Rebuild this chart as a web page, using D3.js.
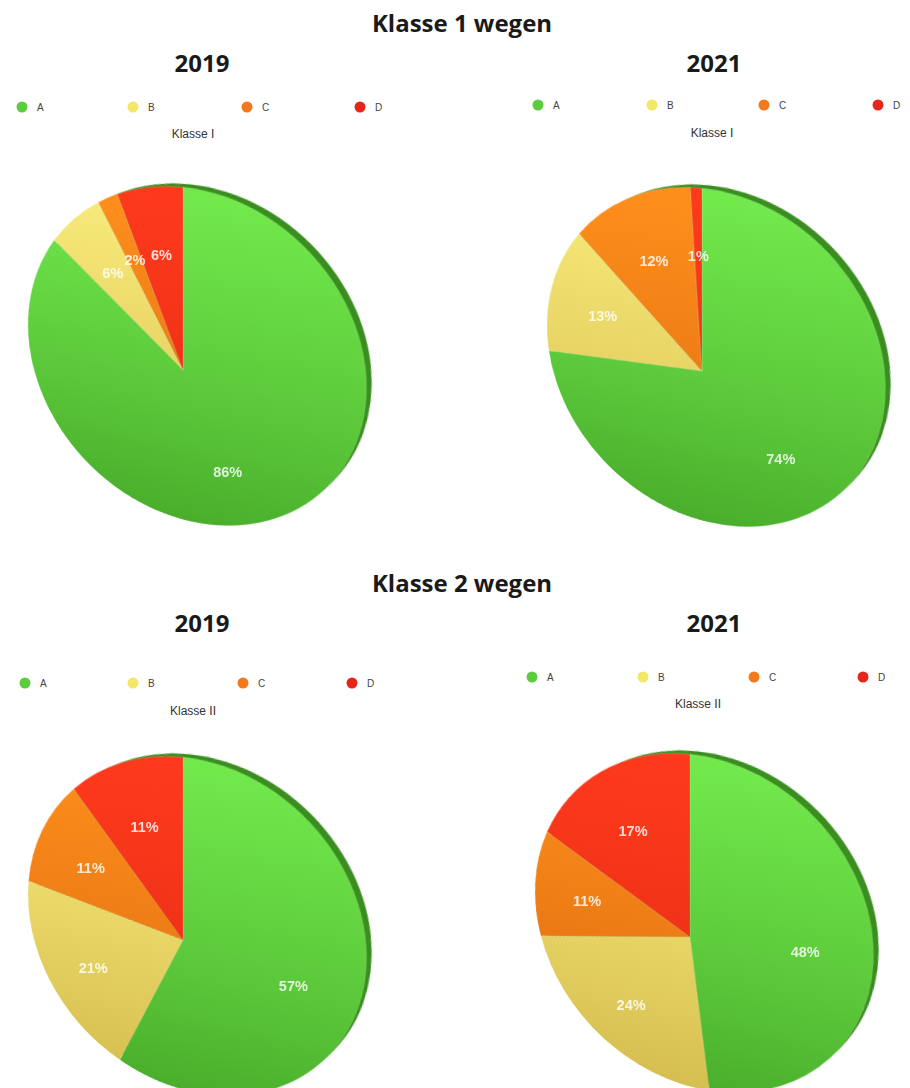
<!DOCTYPE html>
<html><head><meta charset="utf-8">
<script src="https://cdn.jsdelivr.net/npm/d3@7/dist/d3.min.js"></script>
<style>
body{margin:0;background:#fff;width:910px;height:1088px;overflow:hidden;position:relative;}
.pie{position:absolute;transform-origin:50% 50%;}
#base,#overlay{position:absolute;left:0;top:0;}
</style></head>
<body>
<svg id="base" width="910" height="1088"></svg>
<script>
// ---- data ----
const categories = ["A", "B", "C", "D"];
const groupTitles = ["Klasse 1 wegen", "Klasse 2 wegen"];
const years = ["2019", "2021"];
const chartSubtitles = ["Klasse I", "Klasse II"];
const valuesK1_2019 = [86, 6, 2, 6];
const valuesK1_2021 = [74, 13, 12, 1];
const valuesK2_2019 = [57, 21, 11, 11];
const valuesK2_2021 = [48, 24, 11, 17];

// ---- styling / layout ----
const legendColors = ["#5ccb3c", "#f2e766", "#f27a1c", "#e6261a"];
const gradTop = ["#72ea4c", "#f9ec7c", "#ff8f1c", "#ff3a1c"];
const gradBot = ["#4aae2c", "#d6be50", "#dc6a10", "#e02a14"];
const color = d3.scaleOrdinal().domain(categories).range(legendColors);
const tilt = "perspective(800px) rotateX(-26deg) rotateY(-24deg)";

const base = d3.select("#base");
const titleFont = "'Open Sans', sans-serif";
const smallFont = "'Liberation Sans', Arial, sans-serif";

const panels = [
  {values: valuesK1_2019, year: years[0], sub: chartSubtitles[0], yearX: 202, yearY: 72,
   legendY: 107, legendX: [22, 133, 247, 360], subX: 193, subY: 138, cx: 183, cy: 370},
  {values: valuesK1_2021, year: years[1], sub: chartSubtitles[0], yearX: 714, yearY: 72,
   legendY: 105, legendX: [538, 652, 764, 878], subX: 712, subY: 137, cx: 702, cy: 371},
  {values: valuesK2_2019, year: years[0], sub: chartSubtitles[1], yearX: 202, yearY: 632,
   legendY: 683, legendX: [25, 133, 243, 352], subX: 193, subY: 715, cx: 183, cy: 940},
  {values: valuesK2_2021, year: years[1], sub: chartSubtitles[1], yearX: 714, yearY: 632,
   legendY: 677, legendX: [532, 643, 754, 863], subX: 698, subY: 708, cx: 690, cy: 937}
];

// group titles
[[groupTitles[0], 462, 32], [groupTitles[1], 462, 592]].forEach(([t, x, y]) => {
  base.append("text").attr("x", x).attr("y", y).attr("text-anchor", "middle")
    .attr("font-family", titleFont).attr("font-weight", 700).attr("font-size", 24)
    .attr("fill", "#1a1a1a").text(t);
});

const R = 183, pad = 16;
const pieGen = d3.pie().sort(null).value(d => d);
const arc = d3.arc().innerRadius(0).outerRadius(R);
const labelArc = d3.arc().innerRadius(R * 0.65).outerRadius(R * 0.65);
const M = new DOMMatrix(tilt);
function project(pt) {
  const q = M.transformPoint(new DOMPoint(pt[0], pt[1], 0, 1));
  return [q.x / q.w, q.y / q.w];
}
const labelJobs = [];

panels.forEach((p, pi) => {
  // year title
  base.append("text").attr("x", p.yearX).attr("y", p.yearY).attr("text-anchor", "middle")
    .attr("font-family", titleFont).attr("font-weight", 700).attr("font-size", 24)
    .attr("fill", "#1a1a1a").text(p.year);
  // legend
  const lg = base.append("g");
  categories.forEach((c, i) => {
    lg.append("circle").attr("cx", p.legendX[i]).attr("cy", p.legendY).attr("r", 5.5)
      .attr("fill", color(c));
    lg.append("text").attr("x", p.legendX[i] + 15).attr("y", p.legendY + 3.5)
      .attr("font-family", smallFont).attr("font-size", 10).attr("fill", "#444").text(c);
  });
  base.append("text").attr("x", p.subX).attr("y", p.subY).attr("text-anchor", "middle")
    .attr("font-family", smallFont).attr("font-size", 12).attr("fill", "#333").text(p.sub);

  // pie (drawn flat, then tilted in 3D with CSS perspective)
  const size = 2 * (R + pad);
  const div = d3.select("body").append("div").attr("class", "pie")
    .style("left", (p.cx - R - pad) + "px").style("top", (p.cy - R - pad) + "px")
    .style("width", size + "px").style("height", size + "px")
    .style("transform", tilt);
  const svg = div.append("svg").attr("width", size).attr("height", size);
  const defs = svg.append("defs");
  categories.forEach((c, i) => {
    const g = defs.append("linearGradient").attr("id", `g${pi}_${i}`)
      .attr("gradientUnits", "userSpaceOnUse").attr("x1", 0).attr("y1", -R).attr("x2", 0).attr("y2", R);
    g.append("stop").attr("offset", "0%").attr("stop-color", gradTop[i]);
    g.append("stop").attr("offset", "100%").attr("stop-color", gradBot[i]);
  });
  const g = svg.append("g").attr("transform", `translate(${R + pad},${R + pad})`);
  // side rim (thickness)
  g.append("circle").attr("cx", 6.8).attr("cy", -5.8).attr("r", R - 2.6).attr("fill", "#3a8e1f");
  const arcs = pieGen(p.values);
  g.selectAll("path.slice").data(arcs).enter().append("path").attr("class", "slice")
    .attr("d", arc).attr("fill", (d, i) => `url(#g${pi}_${i})`)
    .attr("stroke", "rgba(255,255,255,0.25)").attr("stroke-width", 0.6);
  arcs.forEach(d => {
    const q = project(labelArc.centroid(d));
    labelJobs.push({x: p.cx + q[0], y: p.cy + q[1], text: d.data + "%"});
  });
});

// labels on top, projected onto the tilted pies
const overlay = d3.select("body").append("svg").attr("id", "overlay")
  .attr("width", 910).attr("height", 1088);
overlay.selectAll("text").data(labelJobs).enter().append("text")
  .attr("x", d => d.x).attr("y", d => d.y).attr("dy", "0.35em").attr("text-anchor", "middle")
  .attr("font-family", smallFont).attr("font-size", 14.5).attr("font-weight", 700)
  .attr("fill", "rgba(255,255,255,0.82)")
  .text(d => d.text);
</script>
</body></html>
